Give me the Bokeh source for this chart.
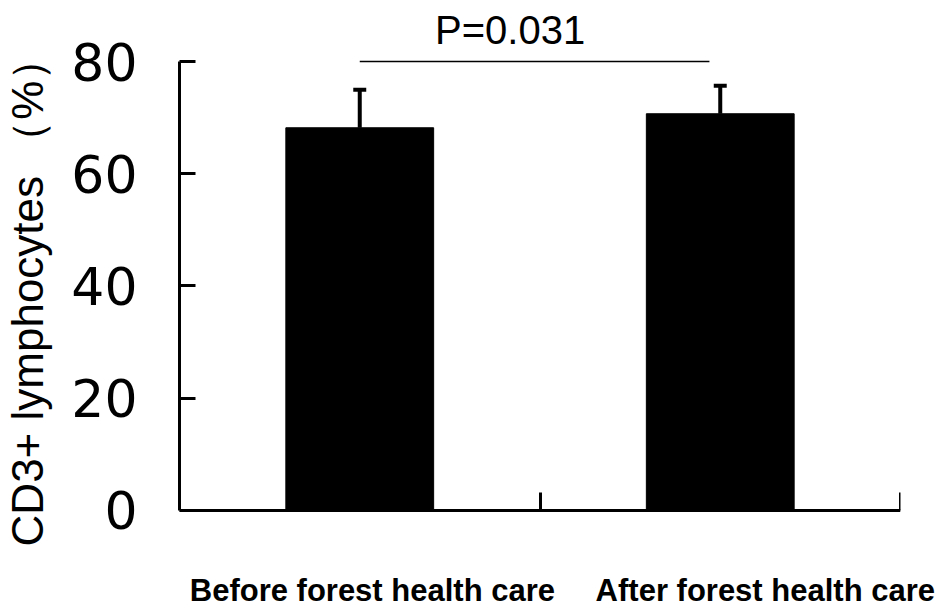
from bokeh.plotting import figure
from bokeh.models import Range1d, FixedTicker, ColumnDataSource, LinearAxis
from bokeh.embed import file_html
from bokeh.resources import INLINE
from bokeh.core.properties import value

# ---- data ----
groups = ["Before forest health care", "After forest health care"]
means = [68.2, 70.7]
errors = [6.8, 5.0]
y_ticks = [0, 20, 40, 60, 80]
p_text = "P=0.031"
y_title = "CD3+ lymphocytes （%）"

centers = [i + 0.5 for i in range(len(groups))]
boundaries = [i + 1 for i in range(len(groups))]
label_pos = [c + off for c, off in zip(centers, [0.035, 0.125])]
tops = [m + e for m, e in zip(means, errors)]

p = figure(width=947, height=610, output_backend="svg", toolbar_location=None,
           x_range=Range1d(0, 2), y_range=Range1d(-12.9, 90.9),
           min_border_left=178, min_border_right=47, min_border_top=0,
           min_border_bottom=28)
p.outline_line_color = None
p.xgrid.visible = False
p.ygrid.visible = False
p.background_fill_color = "white"
p.border_fill_color = "white"

src = ColumnDataSource(dict(x=centers, top=means, up=tops,
                            cl=[c - 0.018 for c in centers],
                            cr=[c + 0.018 for c in centers]))
p.vbar(x="x", top="top", width=0.41, bottom=0, source=src,
       fill_color="black", line_color="black")
p.segment(x0="x", y0="top", x1="x", y1="up", source=src,
          line_color="black", line_width=4)
p.segment(x0="cl", y0="up", x1="cr", y1="up", source=src,
          line_color="black", line_width=4)

# significance bracket
p.segment(x0=[centers[0]], y0=[80], x1=[centers[1] - 0.03], y1=[80],
          line_color="black", line_width=1.5)
p.text(x=[0.917], y=[85.6], text=[p_text], text_align="center",
       text_baseline="alphabetic", text_font=value("Liberation Sans"),
       text_font_size="40px", text_color="black")

# y axis
ya = p.yaxis[0]
ya.ticker = FixedTicker(ticks=y_ticks)
ya.bounds = (0, 80)
ya.axis_line_width = 3
ya.major_tick_line_width = 3
ya.major_tick_in = 16
ya.major_tick_out = 0
ya.minor_tick_line_color = None
ya.major_label_text_font = "DejaVu Sans"
ya.major_label_text_font_size = "52px"
ya.major_label_text_color = "black"
ya.major_label_standoff = 42
ya.axis_label = y_title
ya.axis_label_text_font = "Liberation Sans"
ya.axis_label_text_font_style = "normal"
ya.axis_label_text_font_size = "44px"
ya.axis_label_text_color = "black"
ya.axis_label_standoff = 16

# category labels: regular bottom axis with no line or ticks
xa = p.xaxis[0]
xa.ticker = FixedTicker(ticks=label_pos)
xa.major_label_overrides = {lp: g for lp, g in zip(label_pos, groups)}
xa.axis_line_color = None
xa.major_tick_line_color = None
xa.minor_tick_line_color = None
xa.major_label_text_font = "Liberation Sans"
xa.major_label_text_font_style = "bold"
xa.major_label_text_font_size = "31px"
xa.major_label_text_color = "black"
xa.major_label_standoff = -16

# x axis line with boundary ticks, pinned at y = 0
base = LinearAxis(fixed_location=0, ticker=FixedTicker(ticks=boundaries))
base.axis_line_width = 3
base.major_tick_line_width = 3
base.major_tick_in = 18
base.major_tick_out = 0
base.minor_tick_line_color = None
base.major_label_text_color = None
base.major_label_text_font_size = "0px"
p.add_layout(base, "below")

open("out.html", "w").write(file_html(p, INLINE))
